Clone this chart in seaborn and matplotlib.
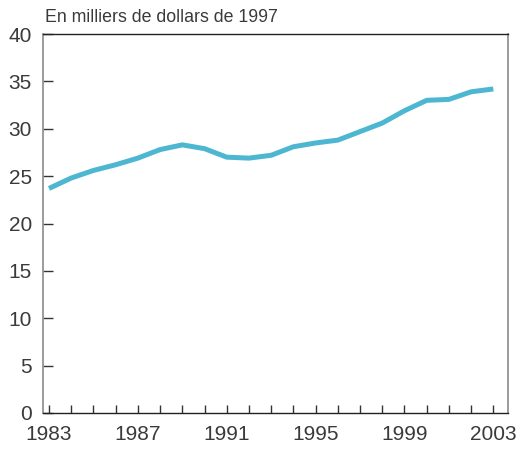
import matplotlib
matplotlib.use("Agg")
import matplotlib.pyplot as plt
import seaborn as sns
import pandas as pd
import numpy as np

years = list(range(1983, 2004))
values = [23.7, 24.8, 25.6, 26.2, 26.9, 27.8, 28.3, 27.9, 27.0, 26.9,
          27.2, 28.1, 28.5, 28.8, 29.7, 30.6, 31.9, 33.0, 33.1, 33.9, 34.2]
x_labels = [1983, 1987, 1991, 1995, 1999, 2003]
y_ticks = [0, 5, 10, 15, 20, 25, 30, 35, 40]
title = "En milliers de dollars de 1997"

sns.set_theme(style="white")
plt.rcParams['font.family'] = ['Liberation Sans', 'DejaVu Sans']
plt.rcParams['xtick.direction'] = 'in'
plt.rcParams['ytick.direction'] = 'in'
plt.rcParams['xtick.bottom'] = True
plt.rcParams['ytick.left'] = True

df = pd.DataFrame({"year": years, "value": values})

fig = plt.figure(figsize=(5.17, 4.49), dpi=100)
ax = fig.add_axes([43/517, 1-413/449, (508-43)/517, (413-34)/449])
sns.lineplot(data=df, x="year", y="value", ax=ax, color="#4DB7D2",
             linewidth=3.6, solid_capstyle="butt", solid_joinstyle="round")

ax.set_xlim(1982.73, 2003.66)
ax.set_ylim(0, 40)
ax.set_xlabel("")
ax.set_ylabel("")
ax.set_xticks(x_labels)
ax.set_xticks(years, minor=True)
ax.set_xticklabels([str(v) for v in x_labels])
ax.set_yticks(y_ticks)
ax.set_yticklabels([str(v) for v in y_ticks])

ax.tick_params(axis="x", which="both", bottom=True, top=False, direction="in",
               length=6, width=1, color="#333333", labelsize=15,
               labelcolor="#3a3a3a", pad=9)
ax.tick_params(axis="y", which="major", left=True, right=False, direction="in",
               length=7, width=1, color="#333333", labelsize=15,
               labelcolor="#3a3a3a", pad=8)
ax.tick_params(axis="y", which="minor", length=0)

for side in ["left", "right"]:
    ax.spines[side].set_color("#8a8a8a")
    ax.spines[side].set_linewidth(1.2)
for side in ["top", "bottom"]:
    ax.spines[side].set_color("#222222")
    ax.spines[side].set_linewidth(1.0)
for s in ax.spines.values():
    s.set_visible(True)

fig.text(45/517, 1-18/449, title, fontsize=12.8, color="#3a3a3a",
         ha="left", va="center")

fig.savefig("out.png", dpi=100)
